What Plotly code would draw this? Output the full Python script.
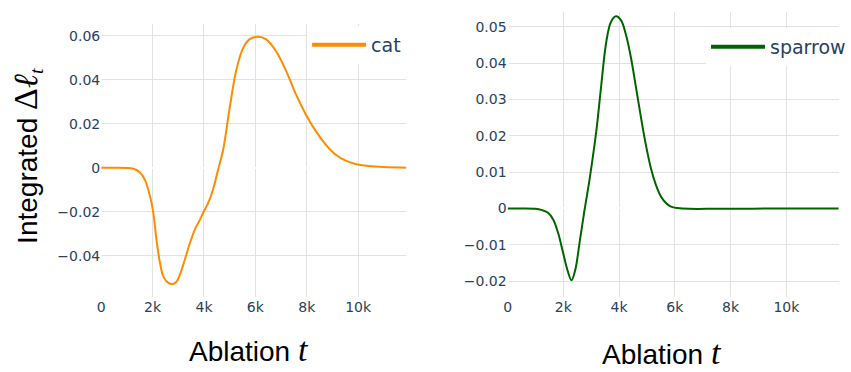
import plotly.graph_objects as go

# ---- data ----
cat_t = [0, 500, 1000, 1250, 1500, 1700, 1900, 2030, 2150, 2290, 2420, 2600, 2780, 2930,
         3080, 3250, 3450, 3640, 3840, 3990, 4160, 4350, 4550, 4740, 5000, 5250, 5500,
         5770, 6100, 6420, 6800, 7200, 7580, 7970, 8360, 8740, 9130, 9520, 9900, 10400,
         11000, 11880]
cat_dl = [0, 0, -0.0001, -0.0005, -0.002, -0.0055, -0.013, -0.0206, -0.0328, -0.0434,
          -0.0495, -0.0522, -0.0528, -0.0518, -0.048, -0.0419, -0.0343, -0.0282, -0.0237,
          -0.0199, -0.0161, -0.010, -0.0009, 0.0078, 0.0272, 0.0439, 0.0538, 0.0583,
          0.0595, 0.0583, 0.053, 0.0439, 0.0333, 0.0241, 0.0165, 0.0105, 0.0059, 0.0032,
          0.0017, 0.0008, 0.0003, 0.0]

sparrow_t = [0, 500, 1000, 1210, 1450, 1630, 1810, 1990, 2140, 2290, 2430, 2580, 2760,
             2940, 3180, 3360, 3540, 3710, 3890, 4070, 4250, 4430, 4610, 4790, 4960, 5140,
             5320, 5500, 5680, 5860, 6100, 6500, 7500, 8500, 9500, 11880]
sparrow_dl = [0, 0, -0.0001, -0.0004, -0.0012, -0.003, -0.0067, -0.0122, -0.0168, -0.0198,
              -0.0168, -0.0095, -0.0004, 0.008, 0.0212, 0.034, 0.0459, 0.0514, 0.0529,
              0.0518, 0.0477, 0.0413, 0.0331, 0.0248, 0.0175, 0.0111, 0.0065, 0.0033,
              0.0015, 0.0005, 0.0001, -0.0001, -0.0001, -0.0001, 0.0, 0.0]

cat_yticks = [-0.04, -0.02, 0, 0.02, 0.04, 0.06]
sparrow_yticks = [-0.02, -0.01, 0, 0.01, 0.02, 0.03, 0.04, 0.05]
x_ticks = [0, 2000, 4000, 6000, 8000, 10000]
x_ticktext = ["0", "2k", "4k", "6k", "8k", "10k"]

W, H = 851, 372
CAT_COLOR = "#FF8C00"
SPARROW_COLOR = "#006400"
TICK_FONT = dict(family="DejaVu Sans", size=14, color="#2a3f5f")
GRID = "#E2E2E2"

fig = go.Figure()

# real curves
fig.add_trace(go.Scatter(x=cat_t, y=cat_dl, mode="lines", name="cat", showlegend=False,
                         line=dict(color=CAT_COLOR, width=2, shape="spline"),
                         xaxis="x", yaxis="y"))
fig.add_trace(go.Scatter(x=sparrow_t, y=sparrow_dl, mode="lines", name="sparrow",
                         showlegend=False,
                         line=dict(color=SPARROW_COLOR, width=2, shape="spline"),
                         xaxis="x2", yaxis="y2"))
# legend entries
fig.add_trace(go.Scatter(x=[None], y=[None], mode="lines", name="cat",
                         line=dict(color=CAT_COLOR, width=4), xaxis="x", yaxis="y",
                         legend="legend"))
fig.add_trace(go.Scatter(x=[None], y=[None], mode="lines", name="sparrow",
                         line=dict(color=SPARROW_COLOR, width=4), xaxis="x2", yaxis="y2",
                         legend="legend2"))

def px_x(p):
    return p / W

def px_y(p):
    return 1 - p / H

axis_common = dict(showgrid=True, gridcolor=GRID, gridwidth=1, zeroline=True,
                   zerolinecolor="white", zerolinewidth=2, showline=False, ticks="",
                   tickfont=TICK_FONT)

legend_common = dict(font=dict(family="DejaVu Sans", size=19, color="#2a3f5f"),
                     bgcolor="white", borderwidth=0, itemwidth=54,
                     xanchor="right", yanchor="top")

fig.update_layout(
    width=W, height=H,
    margin=dict(l=0, r=0, t=0, b=0),
    paper_bgcolor="white", plot_bgcolor="white",
    xaxis=dict(domain=[px_x(97.7), px_x(404.3)], range=[0, 11880], anchor="y",
               tickvals=x_ticks, ticktext=x_ticktext, **axis_common),
    yaxis=dict(domain=[px_y(296.7), px_y(24)], range=[-0.0586, 0.0653], anchor="x",
               tickvals=cat_yticks, **axis_common),
    xaxis2=dict(domain=[px_x(506), px_x(838.7)], range=[0, 11880], anchor="y2",
                tickvals=x_ticks, ticktext=x_ticktext, **axis_common),
    yaxis2=dict(domain=[px_y(296.7), px_y(12)], range=[-0.0243, 0.0541], anchor="x2",
                tickvals=sparrow_yticks, **axis_common),
    legend=dict(x=px_x(404), y=px_y(26), **legend_common),
    legend2=dict(x=px_x(851), y=px_y(28), **legend_common),
)

SANS = "Liberation Sans"
MATH = "font-family:Liberation Serif;font-size:34px"
xtitle = ("Ablation <span style='" + MATH + "'><i>t</i></span>")
ytitle = ("Integrated <span style='" + MATH + "'>Δ<i>ℓ</i></span>"
          "<sub><span style='font-family:Liberation Serif'><i>t</i></span></sub>")

fig.add_annotation(text=xtitle, x=px_x(246), y=px_y(349), xref="paper", yref="paper",
                   xanchor="center", yanchor="middle", showarrow=False,
                   font=dict(family=SANS, size=28, color="black"))
fig.add_annotation(text=xtitle, x=px_x(661), y=px_y(352), xref="paper", yref="paper",
                   xanchor="center", yanchor="middle", showarrow=False,
                   font=dict(family=SANS, size=28, color="black"))
fig.add_annotation(text=ytitle, x=px_x(23), y=px_y(156), xref="paper", yref="paper",
                   xanchor="center", yanchor="middle", showarrow=False, textangle=-90,
                   font=dict(family=SANS, size=28, color="black"))

fig.write_html("out.html", config={"displayModeBar": False},
               post_script="document.body.style.margin='0px';"
                           "document.body.style.overflow='hidden';")
